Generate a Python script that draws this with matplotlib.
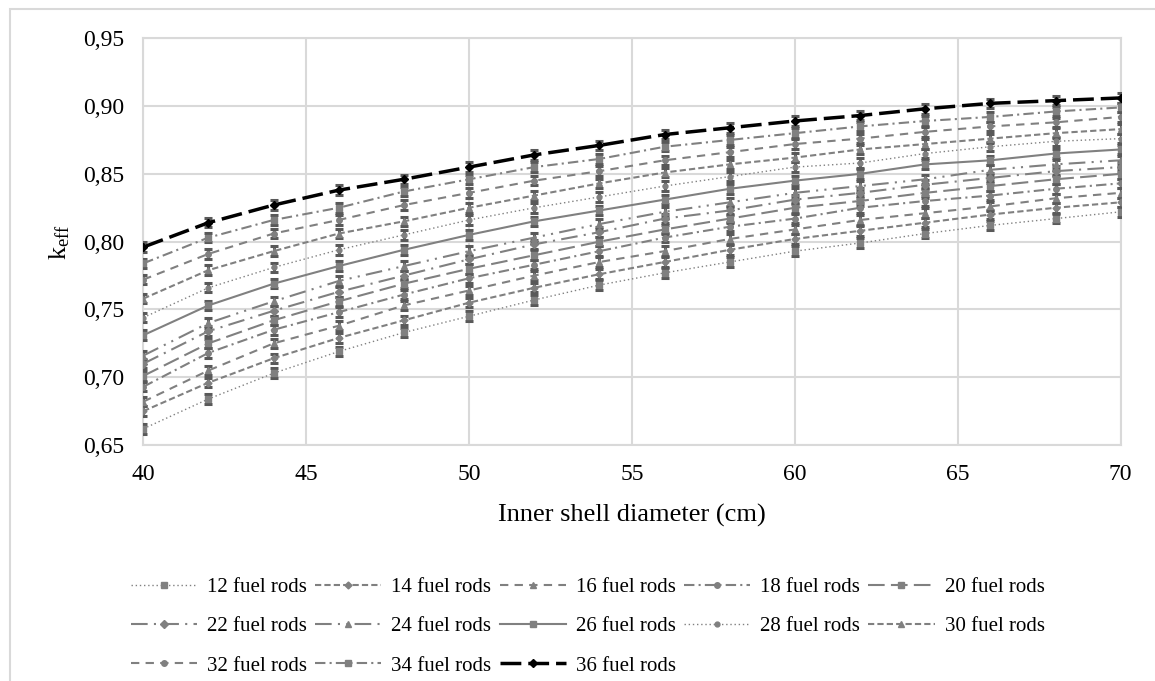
import matplotlib
matplotlib.use("Agg")
import matplotlib.pyplot as plt
from matplotlib.patches import Rectangle

plt.rcParams['font.family'] = 'Liberation Serif'
plt.rcParams['mathtext.fontset'] = 'custom'
plt.rcParams['mathtext.rm'] = 'Liberation Serif'
plt.rcParams['mathtext.it'] = 'Liberation Serif:italic'

diameter = [40, 42, 44, 46, 48, 50, 52, 54, 56, 58, 60, 62, 64, 66, 68, 70]

rods_12 = [0.662, 0.684, 0.703, 0.719, 0.733, 0.745, 0.757, 0.768, 0.777, 0.785, 0.793, 0.799, 0.806, 0.812, 0.817, 0.822]
rods_14 = [0.675, 0.696, 0.714, 0.729, 0.742, 0.755, 0.766, 0.776, 0.785, 0.794, 0.802, 0.808, 0.814, 0.820, 0.825, 0.829]
rods_16 = [0.682, 0.705, 0.725, 0.738, 0.753, 0.764, 0.775, 0.785, 0.793, 0.802, 0.809, 0.816, 0.821, 0.826, 0.832, 0.836]
rods_18 = [0.693, 0.718, 0.735, 0.748, 0.761, 0.773, 0.783, 0.793, 0.803, 0.811, 0.817, 0.825, 0.830, 0.834, 0.839, 0.843]
rods_20 = [0.701, 0.725, 0.742, 0.756, 0.769, 0.780, 0.790, 0.800, 0.809, 0.817, 0.825, 0.830, 0.836, 0.841, 0.846, 0.850]
rods_22 = [0.710, 0.734, 0.749, 0.763, 0.775, 0.787, 0.798, 0.807, 0.817, 0.823, 0.831, 0.836, 0.842, 0.847, 0.852, 0.855]
rods_24 = [0.716, 0.740, 0.756, 0.771, 0.782, 0.793, 0.803, 0.813, 0.822, 0.829, 0.836, 0.841, 0.846, 0.853, 0.857, 0.860]
rods_26 = [0.731, 0.753, 0.769, 0.782, 0.794, 0.805, 0.815, 0.823, 0.831, 0.839, 0.845, 0.850, 0.857, 0.860, 0.865, 0.868]
rods_28 = [0.744, 0.766, 0.781, 0.794, 0.805, 0.816, 0.825, 0.833, 0.841, 0.848, 0.855, 0.858, 0.865, 0.870, 0.874, 0.876]
rods_30 = [0.758, 0.779, 0.793, 0.806, 0.815, 0.825, 0.834, 0.843, 0.851, 0.857, 0.862, 0.868, 0.872, 0.876, 0.880, 0.883]
rods_32 = [0.772, 0.791, 0.806, 0.816, 0.827, 0.836, 0.845, 0.852, 0.860, 0.866, 0.872, 0.876, 0.881, 0.885, 0.888, 0.892]
rods_34 = [0.784, 0.803, 0.816, 0.825, 0.837, 0.846, 0.855, 0.861, 0.870, 0.875, 0.880, 0.885, 0.889, 0.892, 0.896, 0.899]
rods_36 = [0.796, 0.814, 0.827, 0.838, 0.846, 0.855, 0.864, 0.871, 0.879, 0.884, 0.889, 0.893, 0.898, 0.902, 0.904, 0.906]

labels = ['12 fuel rods', '14 fuel rods', '16 fuel rods', '18 fuel rods', '20 fuel rods',
          '22 fuel rods', '24 fuel rods', '26 fuel rods', '28 fuel rods', '30 fuel rods',
          '32 fuel rods', '34 fuel rods', '36 fuel rods']
series = [rods_12, rods_14, rods_16, rods_18, rods_20, rods_22, rods_24,
          rods_26, rods_28, rods_30, rods_32, rods_34, rods_36]

grey = '#808080'
styles = [
    dict(ls=(0, (1, 2)), marker='s', lw=1.0, ms=4),
    dict(ls=(0, (3, 1.5)), marker='D', lw=1.5, ms=3.5),
    dict(ls=(0, (4, 3)), marker='^', lw=1.5, ms=4.5),
    dict(ls=(0, (5, 2, 1, 2)), marker='o', lw=1.5, ms=4),
    dict(ls=(0, (8, 3)), marker='s', lw=1.5, ms=4),
    dict(ls=(0, (8, 3, 1, 3)), marker='D', lw=1.5, ms=4),
    dict(ls=(0, (8, 3, 1, 3, 1, 3)), marker='^', lw=1.5, ms=4.5),
    dict(ls='-', marker='s', lw=1.5, ms=4),
    dict(ls=(0, (1, 2)), marker='o', lw=1.0, ms=3.5),
    dict(ls=(0, (3, 1.5)), marker='^', lw=1.5, ms=4.5),
    dict(ls=(0, (4, 3)), marker='o', lw=1.5, ms=4),
    dict(ls=(0, (5, 2, 1, 2)), marker='s', lw=1.5, ms=4),
    dict(ls=(0, (6, 2)), marker='D', lw=2.5, ms=4),
]

fig = plt.figure(figsize=(11.55, 6.81), dpi=100)
ax = fig.add_axes([0.1241, 0.3465, 0.8462, 0.5973])

# error bars, drawn separately so they stay out of the legend
for vals in series:
    ax.errorbar(diameter, vals, yerr=0.0035, fmt='none', ecolor='#595959',
                elinewidth=2.2, capsize=3, capthick=2.2, zorder=3)

handles = []
for vals, lab, st in zip(series, labels, styles):
    col = 'black' if lab.startswith('36') else grey
    h, = ax.plot(diameter, vals, color=col, linestyle=st['ls'], lw=st['lw'],
                 marker=st['marker'], ms=st['ms'], mfc=col, mec=col, label=lab, zorder=4)
    handles.append(h)

ax.set_xlim(40, 70)
ax.set_ylim(0.65, 0.95)
ax.set_xticks([40, 45, 50, 55, 60, 65, 70])
ax.set_yticks([0.65, 0.70, 0.75, 0.80, 0.85, 0.90, 0.95])
ax.set_yticklabels([f'{v:.2f}'.replace('.', ',') for v in ax.get_yticks()])
ax.tick_params(length=0, labelsize=17, pad=14)
ax.grid(color='#d9d9d9', lw=1.5)
ax.set_axisbelow(True)
for s in ax.spines.values():
    s.set_color('#d9d9d9')
    s.set_linewidth(1.5)

ax.set_xlabel('Inner shell diameter (cm)', fontsize=19, labelpad=13)
ax.set_ylabel(r'k$_{\mathrm{eff}}$', fontsize=19, labelpad=8)

# legend fills row by row like the original: reorder for matplotlib's column filling
order = [0, 5, 10, 1, 6, 11, 2, 7, 12, 3, 8, 4, 9]
fig.legend([handles[i] for i in order], [labels[i] for i in order],
           loc='upper left', bbox_to_anchor=(0.1134, 0.1518), ncol=5, frameon=False,
           fontsize=15, handlelength=3.17, handletextpad=0.48, columnspacing=0.4,
           labelspacing=0.94, borderpad=0, borderaxespad=0)

fig.add_artist(Rectangle((10 / 1155, -0.1), 1.2, 1.1 - 9 / 681, transform=fig.transFigure,
                         fill=False, edgecolor='#d9d9d9', lw=1.5))

fig.savefig('out.png', dpi=100)
